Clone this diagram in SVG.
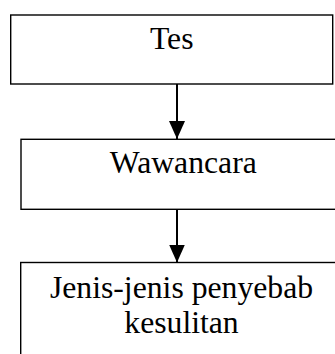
<svg xmlns="http://www.w3.org/2000/svg" width="335" height="354" viewBox="0 0 335 354">
<defs>
<style>
.box{fill:#fff;stroke:#000;stroke-width:1.4}
.lbl{font-family:"Liberation Serif","Times New Roman",serif;font-size:31.7px;fill:#000;text-anchor:middle}
.conn{stroke:#000;stroke-width:2;fill:none}
</style>
<marker id="ah" markerUnits="userSpaceOnUse" markerWidth="16" markerHeight="18" refX="18" refY="8" orient="auto">
<path d="M0,0 L18,8 L0,16 Z" fill="#000"/>
</marker>
</defs>
<rect width="335" height="354" fill="#fff"/>
<g id="node-tes">
<rect class="box" x="10.7" y="15" width="322" height="69"/>
<text class="lbl" x="171.7" y="49">Tes</text>
</g>
<g id="node-wawancara">
<rect class="box" x="21" y="139.3" width="330" height="70"/>
<text class="lbl" x="183.3" y="173.3">Wawancara</text>
</g>
<g id="node-jenis">
<rect class="box" x="20.7" y="262.5" width="330" height="110"/>
<text class="lbl" x="181.5" y="298.3">Jenis-jenis penyebab</text>
<text class="lbl" x="181.5" y="333.3">kesulitan</text>
</g>
<g id="connectors">
<line class="conn" x1="177" y1="84" x2="177" y2="139" marker-end="url(#ah)"/>
<line class="conn" x1="177" y1="209.3" x2="177" y2="262.5" marker-end="url(#ah)"/>
</g>
</svg>
